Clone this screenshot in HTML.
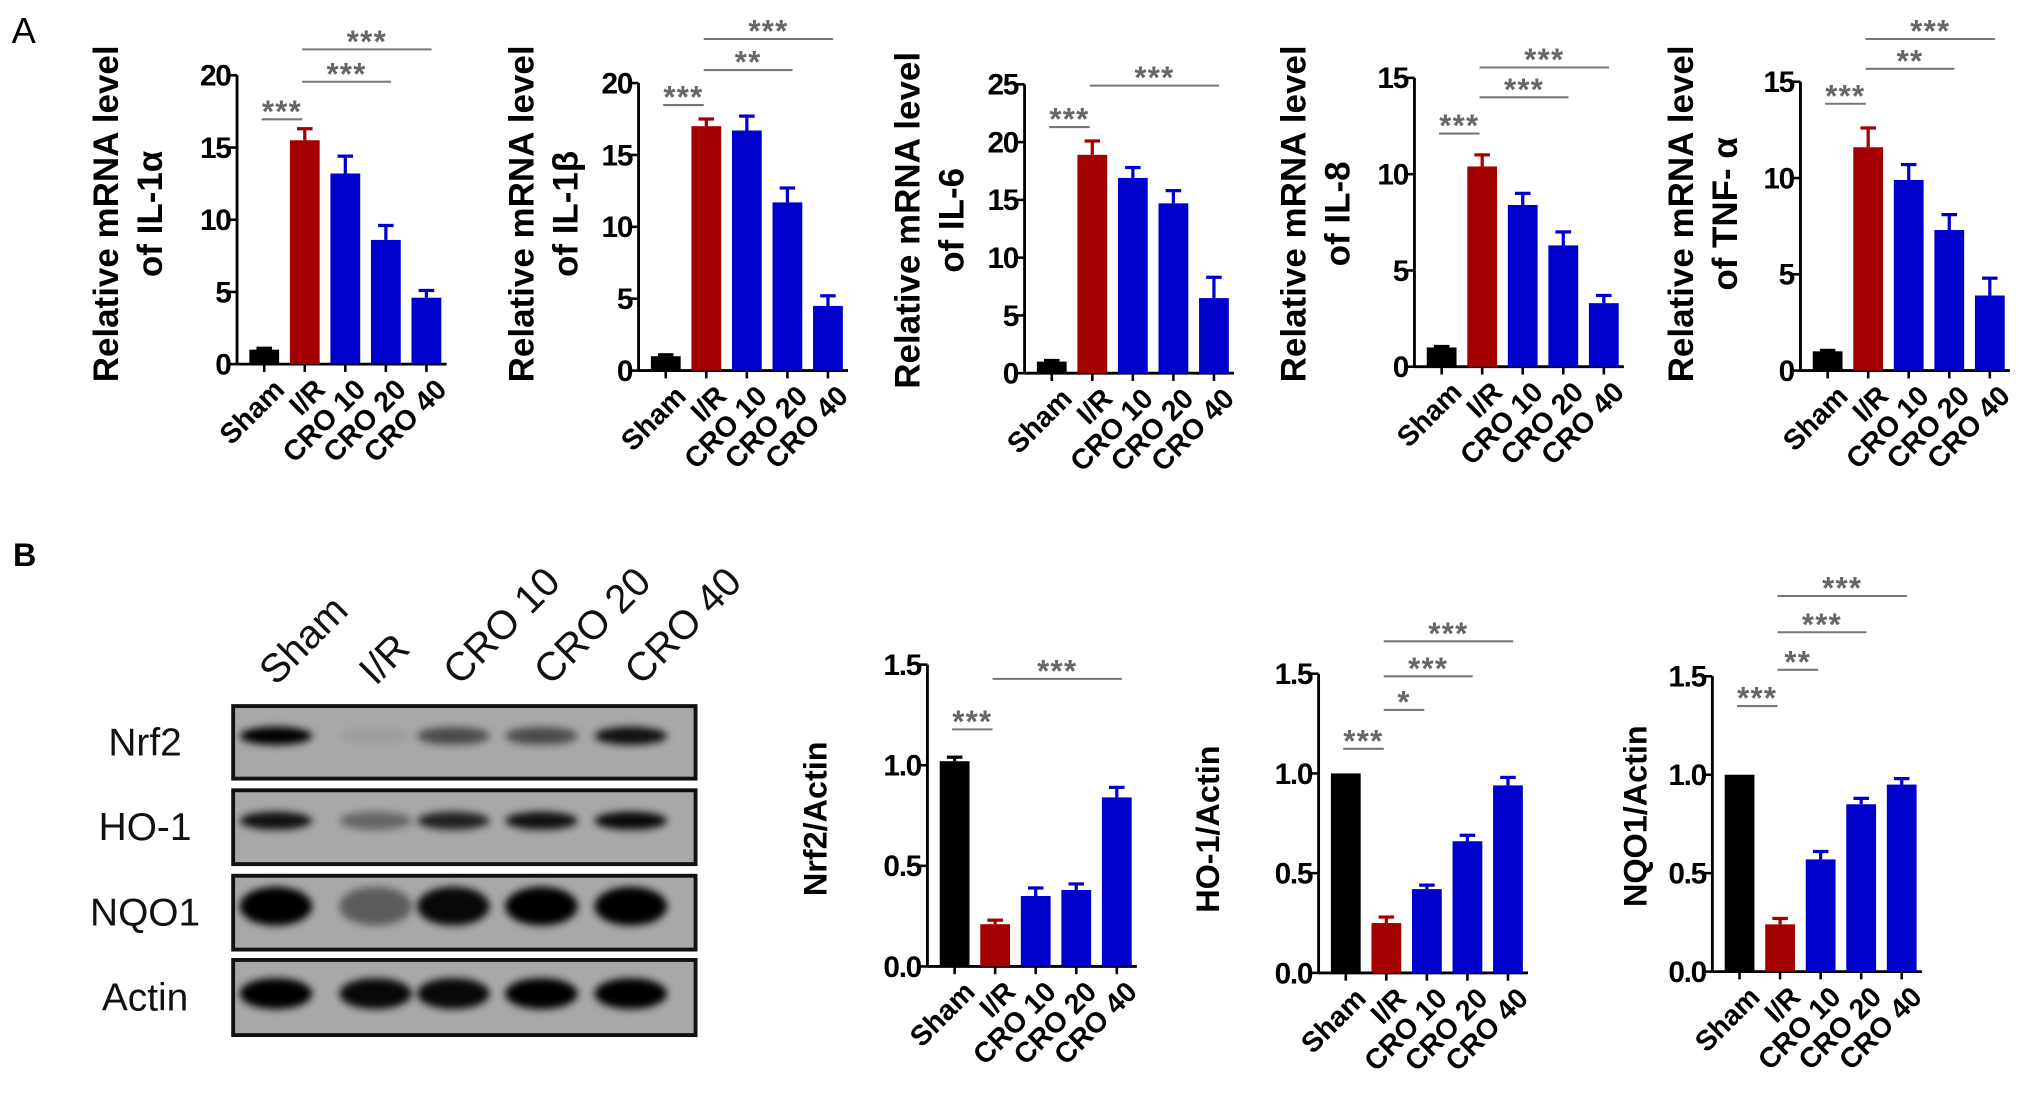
<!DOCTYPE html>
<html><head><meta charset="utf-8"><style>
html,body{margin:0;padding:0;background:#fff;}
svg{display:block;}
text{font-family:"Liberation Sans",Arial,sans-serif;}
</style></head><body>
<svg id="fig" width="2031" height="1100" viewBox="0 0 1568 849" xmlns="http://www.w3.org/2000/svg">
<defs>
<filter id="blur" x="-50%" y="-50%" width="200%" height="200%"><feGaussianBlur stdDeviation="3"/></filter>
</defs>
<text x="9" y="33" font-size="28">A</text>
<text x="10" y="437" font-size="25" font-weight="bold">B</text>
<g id="blot"></g>
</svg>
<script>
const categories = ["Sham","I/R","CRO 10","CRO 20","CRO 40"];
const il1aValues = [1.0, 15.5, 13.2, 8.6, 4.6];
const il1aErrors = [0.1, 0.8, 1.2, 1.0, 0.5];
const il1bValues = [1.0, 17.0, 16.7, 11.7, 4.5];
const il1bErrors = [0.1, 0.5, 1.0, 1.0, 0.7];
const il6Values = [1.0, 18.9, 16.9, 14.7, 6.5];
const il6Errors = [0.1, 1.2, 0.9, 1.1, 1.8];
const il8Values = [1.0, 10.4, 8.4, 6.3, 3.3];
const il8Errors = [0.05, 0.6, 0.6, 0.7, 0.4];
const tnfValues = [1.0, 11.6, 9.9, 7.3, 3.9];
const tnfErrors = [0.05, 1.0, 0.8, 0.8, 0.9];
const nrf2Values = [1.02, 0.21, 0.35, 0.38, 0.84];
const nrf2Errors = [0.02, 0.02, 0.04, 0.03, 0.05];
const ho1Values = [1.0, 0.25, 0.42, 0.66, 0.94];
const ho1Errors = [0.0, 0.03, 0.02, 0.03, 0.04];
const nqo1Values = [1.0, 0.24, 0.57, 0.85, 0.95];
const nqo1Errors = [0.0, 0.03, 0.04, 0.03, 0.03];
const ticks20 = [0,5,10,15,20];
const ticks25 = [0,5,10,15,20,25];
const ticks15 = [0,5,10,15];
const ticksRatio = ["0.0","0.5","1.0","1.5"];
const sigIL1a = [[0,1,"***"],[1,3,"***"],[1,4,"***"]];
const sigIL1b = [[0,1,"***"],[1,3,"**"],[1,4,"***"]];
const sigIL6 = [[0,1,"***"],[1,4,"***"]];
const sigIL8 = [[0,1,"***"],[1,3,"***"],[1,4,"***"]];
const sigTNF = [[0,1,"***"],[1,3,"**"],[1,4,"***"]];
const sigNrf2 = [[0,1,"***"],[1,4,"***"]];
const sigHO1 = [[0,1,"***"],[1,2,"*"],[1,3,"***"],[1,4,"***"]];
const sigNQO1 = [[0,1,"***"],[1,2,"**"],[1,3,"***"],[1,4,"***"]];

const NS="http://www.w3.org/2000/svg";
const svg=document.getElementById('fig');
function mk(tag,attrs,parent){const e=document.createElementNS(NS,tag);for(const k in attrs)e.setAttribute(k,attrs[k]);(parent||svg).appendChild(e);return e;}
const colors=["#000000","#a50000","#0000cc","#0000cc","#0000cc"];

function chart(o){
  const g=mk('g',{});
  
  
  const maxV=o.max;
  const y=v=>o.base-(v/maxV)*(o.base-o.top);
  const step=31.3, x0=o.ax+21;
  const x=i=>x0+i*step;
  const bw=23;
  const ya=mk('line',{x1:o.ax,y1:o.top,x2:o.ax,y2:o.base,stroke:'#000','stroke-width':2.2},g);
  
  const xa=mk('line',{x1:o.ax,y1:o.base,x2:x(4)+bw/2+4,y2:o.base,stroke:'#000','stroke-width':2.2},g);
  
  o.ticks.forEach(t=>{
    const tv=parseFloat(t);const ty=y(tv);
    mk('line',{x1:o.ax-6,y1:ty,x2:o.ax,y2:ty,stroke:'#000','stroke-width':2},g);
    const tl=mk('text',{x:o.ax-5,y:ty+8,'font-size':23,'font-weight':'bold','text-anchor':'end','letter-spacing':'-1'},g);
    tl.textContent=t;
    
  });
  categories.forEach((c,i)=>{
    const v=o.values[i],e=o.errors[i];
    const r=mk('rect',{x:x(i)-bw/2,y:y(v),width:bw,height:o.base-y(v),fill:colors[i]},g);
    
    
    if(e>0){
      mk('line',{x1:x(i),y1:y(v),x2:x(i),y2:y(v+e),stroke:colors[i],'stroke-width':2.5},g);
      mk('line',{x1:x(i)-6,y1:y(v+e),x2:x(i)+6,y2:y(v+e),stroke:colors[i],'stroke-width':2.5},g);
    }
    mk('line',{x1:x(i),y1:o.base,x2:x(i),y2:o.base+6,stroke:'#000','stroke-width':2},g);
    const lx=x(i)+6, ly=o.base+10;
    const tl=mk('text',{x:lx,y:ly,'font-size':22,'font-weight':'bold','text-anchor':'end',transform:`rotate(-45 ${lx} ${ly})`,dy:'0.7em'},g);
    tl.textContent=c;
    
  });
  o.sig.forEach((s,k)=>{
    const sy=o.sigY[k];
    const x1=x(s[0])-2,x2=x(s[1])+(s[1]-s[0]>1?4:-2);
    const ln=mk('line',{x1:x1,y1:sy,x2:x2,y2:sy,stroke:'#777','stroke-width':1.6},g);
    
    const st=mk('text',{x:(x1+x2)/2,y:sy+2,'font-size':24,'font-weight':'bold',fill:'#666','text-anchor':'middle','letter-spacing':'1'},g);
    st.textContent=s[2];
    
  });
  o.title.forEach((t,k)=>{
    const tx=o.titleX[k],ty=o.titleCY;
    const tt=mk('text',{x:tx,y:ty,'font-size':o.tfs||27,'font-weight':'bold','text-anchor':'middle',transform:`rotate(-90 ${tx} ${ty})`},g);
    tt.textContent=t;
    
  });
}
chart({name:'chart-il-1a',ax:183,base:281,top:58,max:20,ticks:ticks20,values:il1aValues,errors:il1aErrors,sig:sigIL1a,sigY:[92,63,38],title:["Relative mRNA level","of IL-1α"],titleX:[91,125],titleCY:165});
chart({name:'chart-il-1b',ax:493,base:286,top:64,max:20,ticks:ticks20,values:il1bValues,errors:il1bErrors,sig:sigIL1b,sigY:[81,54,30],title:["Relative mRNA level","of IL-1β"],titleX:[412,446],titleCY:165});
chart({name:'chart-il-6',ax:791,base:288,top:65,max:25,ticks:ticks25,values:il6Values,errors:il6Errors,sig:sigIL6,sigY:[98,66],title:["Relative mRNA level","of IL-6"],titleX:[710,744],titleCY:170});
chart({name:'chart-il-8',ax:1092,base:283,top:60,max:15,ticks:ticks15,values:il8Values,errors:il8Errors,sig:sigIL8,sigY:[103,75,52],title:["Relative mRNA level","of IL-8"],titleX:[1008,1042],titleCY:165});
chart({name:'chart-tnf-a',ax:1390,base:286,top:63,max:15,ticks:ticks15,values:tnfValues,errors:tnfErrors,sig:sigTNF,sigY:[80,53,30],title:["Relative mRNA level","of TNF- α"],titleX:[1307,1341],titleCY:165});
chart({name:'chart-nrf2',ax:716,base:746,top:513,max:1.5,ticks:ticksRatio,values:nrf2Values,errors:nrf2Errors,sig:sigNrf2,sigY:[563,524],title:["Nrf2/Actin"],titleX:[638],titleCY:632,tfs:25});
chart({name:'chart-ho-1',ax:1018,base:751,top:520,max:1.5,ticks:ticksRatio,values:ho1Values,errors:ho1Errors,sig:sigHO1,sigY:[578,548,522,495],title:["HO-1/Actin"],titleX:[941],titleCY:640,tfs:25});
chart({name:'chart-nqo1',ax:1322,base:750,top:522,max:1.5,ticks:ticksRatio,values:nqo1Values,errors:nqo1Errors,sig:sigNQO1,sigY:[545,517,488,460],title:["NQO1/Actin"],titleX:[1271],titleCY:630,tfs:25});

const blot=document.getElementById('blot');
const rows=[["Nrf2",545,601],["HO-1",610,667],["NQO1",676,733],["Actin",741,799]];
const lanes=[213,290,350,418,487];
const intens=[[1,0.05,0.55,0.55,0.9],[0.9,0.4,0.8,0.9,0.95],[1,0.45,0.95,1,1],[1,0.95,0.95,1,1]];
rows.forEach((r,ri)=>{
  const rb=mk('rect',{x:180,y:r[1],width:357,height:r[2]-r[1],fill:'#a8a8a8',stroke:'#111','stroke-width':3},blot);
  
  const cy=(r[1]+r[2])/2-(ri==3?3:5);
  lanes.forEach((lx,li)=>{
    const a=intens[ri][li];
    const h=ri==2?15:(ri==3?12:7);
    mk('ellipse',{cx:lx,cy:cy,rx:28,ry:h,fill:'#000',opacity:a,filter:'url(#blur)'},blot);
  });
  const lt=mk('text',{x:112,y:(r[1]+r[2])/2+10,'font-size':30,'text-anchor':'middle',fill:'#111'},blot);
  lt.textContent=r[0];
  
});
const laneLabelX=[213,290,355,425,495];
categories.forEach((c,i)=>{
  const lx=laneLabelX[i],ly=530;
  const t=mk('text',{x:lx,y:ly,'font-size':31,transform:`rotate(-45 ${lx} ${ly})`,fill:'#111'},blot);
  t.textContent=c;
  
});
</script>
</body></html>
